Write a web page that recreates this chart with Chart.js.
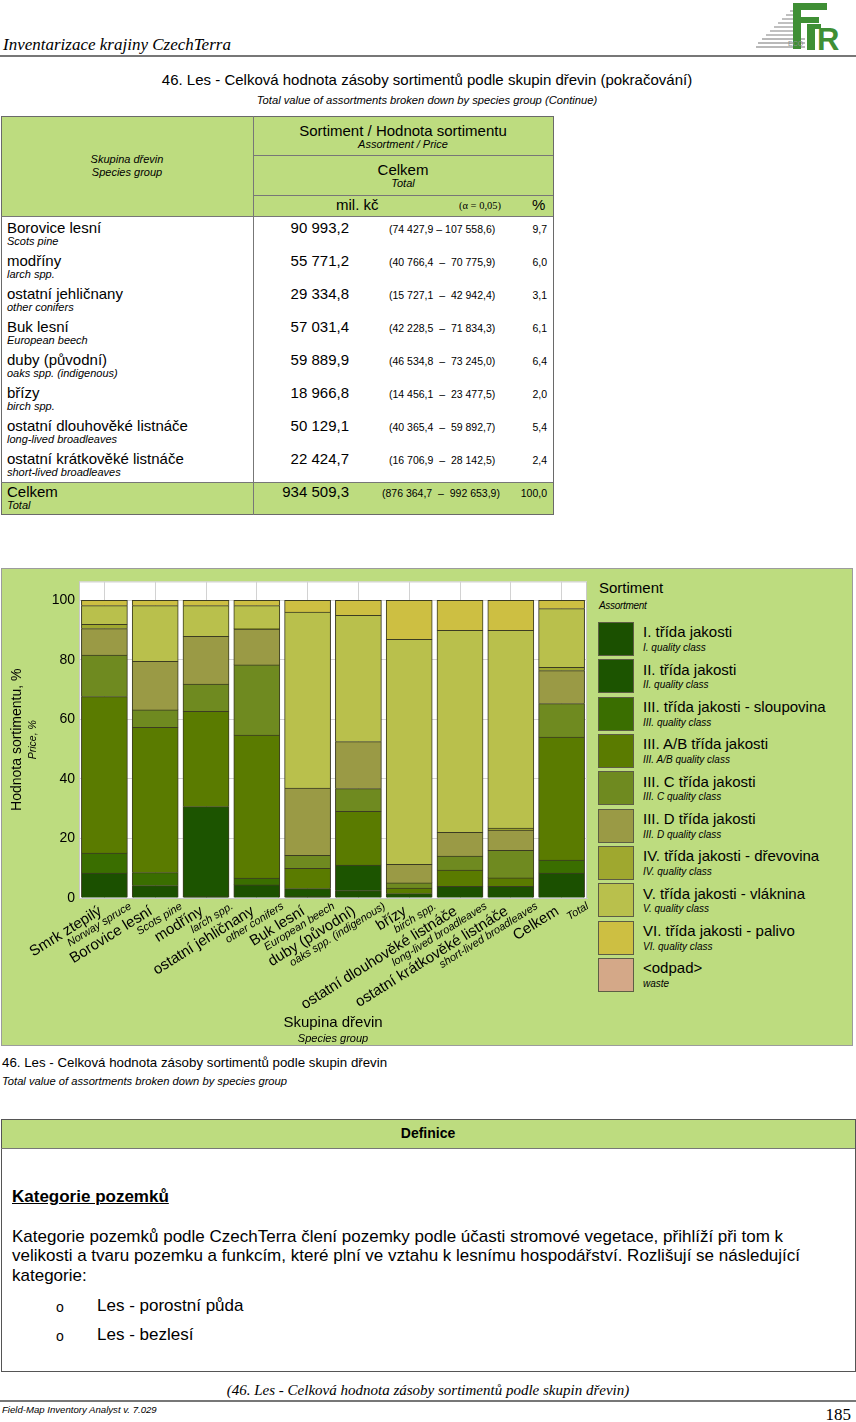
<!DOCTYPE html>
<html lang="cs">
<head>
<meta charset="utf-8">
<title>46. Les - Celková hodnota zásoby sortimentů podle skupin dřevin</title>
<script src="https://cdn.jsdelivr.net/npm/chart.js@4.4.1/dist/chart.umd.min.js"></script>
<style>
  html, body { margin: 0; padding: 0; }
  body { width: 856px; height: 1422px; position: relative; overflow: hidden; background: #fff; color: #000;
         font-family: "Liberation Sans", Arial, sans-serif; }
  .a { position: absolute; white-space: pre; line-height: 1; }
  .i { font-style: italic; }
  .serif { font-family: "Liberation Serif", "Times New Roman", serif; }
  .ln { position: absolute; background: #777; }
  .green { position: absolute; background: #bddc7f; }
  .box { position: absolute; box-sizing: border-box; }
</style>
</head>
<body>

<svg class="box" style="left:755px; top:2px;" width="98" height="50" viewBox="0 0 98 50">
  <g stroke="#b9b9b9" stroke-width="1.8">
    <line x1="35" y1="9" x2="42" y2="9"/>
    <line x1="31" y1="13" x2="42" y2="13"/>
    <line x1="27" y1="17" x2="42" y2="17"/>
    <line x1="23" y1="21" x2="42" y2="21"/>
    <line x1="19" y1="25" x2="42" y2="25"/>
    <line x1="15" y1="29" x2="42" y2="29"/>
    <line x1="11" y1="33" x2="42" y2="33"/>
    <line x1="7" y1="37" x2="50" y2="37"/>
    <line x1="3" y1="41" x2="50" y2="41"/>
    <line x1="1" y1="45" x2="50" y2="45"/>
  </g>
  <rect x="38" y="1" width="8" height="46" fill="#3f8f35"/>
  <rect x="46" y="1" width="26" height="7" fill="#3f8f35"/>
  <rect x="46" y="15" width="18" height="6" fill="#3f8f35"/>
  <rect x="52" y="22" width="8" height="26" fill="#3f8f35"/>
  <rect x="52" y="22" width="14" height="5" fill="#3f8f35"/>
  <text x="62" y="48" font-family="Liberation Sans" font-weight="bold" font-size="31" fill="#3f8f35">R</text>
  <text x="33" y="44" font-family="Liberation Sans" font-size="7" fill="#8f8f8f">ECO</text>
</svg>

<div class="box" style="left:1px; top:568px; width:852px; height:478px; background:#bddc7f; border:1px solid #9c9c9c;"></div>
<canvas id="chart" class="box" style="left:1px; top:569px;" width="592" height="476"></canvas>
<div id="page"></div>

<script>
// --- chart data (shares of assortment value in %) ---
const species = ["Smrk ztepilý", "Borovice lesní", "modříny", "ostatní jehličnany", "Buk lesní",
  "duby (původní)", "břízy", "ostatní dlouhověké listnáče", "ostatní krátkověké listnáče", "Celkem"];
const speciesEn = ["Norway spruce", "Scots pine", "larch spp.", "other conifers", "European beech",
  "oaks spp. (indigenous)", "birch spp.", "long-lived broadleaves", "short-lived broadleaves", "Total"];

const assortments = ["I. třída jakosti", "II. třída jakosti", "III. třída jakosti - sloupovina",
  "III. A/B třída jakosti", "III. C třída jakosti", "III. D třída jakosti",
  "IV. třída jakosti - dřevovina", "V. třída jakosti - vláknina", "VI. třída jakosti - palivo", "<odpad>"];
const assortmentsEn = ["I. quality class", "II. quality class", "III. quality class", "III. A/B quality class",
  "III. C quality class", "III. D quality class", "IV. quality class", "V. quality class",
  "VI. quality class", "waste"];
const colors = ["#1b5000", "#1c5400", "#3a6e00", "#5a7b00", "#6f8a20", "#9a9a45",
  "#9fa82f", "#b9c04c", "#cdbf42", "#d4a888"];

const trida1   = [8.3, 4.1, 0.5, 4.4, 0.5, 2.4, 1.4, 3.9, 3.9, 8.3];
const trida2   = [null, null, 30.2, null, 2.6, 8.6, null, null, null, null];
const trida3s  = [6.7, 4.4, null, 2.2, null, null, null, null, null, 4.4];
const trida3ab = [52.6, 48.8, 32.0, 48.1, 6.8, 18.1, 1.9, 5.4, 2.8, 41.3];
const trida3c  = [14.0, 5.9, 9.1, 23.6, 4.4, 7.6, 1.7, 4.7, 9.3, 11.3];
const trida3d  = [8.9, 16.3, 16.1, 12.0, 22.6, 15.8, 6.3, 8.0, 6.8, 11.1];
const trida4   = [1.4, null, null, 0.3, null, null, null, null, 0.6, 1.1];
const trida5   = [6.3, 18.7, 10.3, 7.6, 59.1, 42.4, 75.6, 67.9, 66.5, 19.7];
const trida6   = [1.8, 1.8, 1.8, 1.8, 4.0, 5.1, 13.1, 10.1, 10.1, 2.8];
const odpad    = [null, null, null, null, null, null, null, null, null, null];

const yTicks = [0, 20, 40, 60, 80, 100];
const xTitle = "Skupina dřevin", xTitleEn = "Species group";
const yTitle = "Hodnota sortimentu, %", yTitleEn = "Price, %";

// --- table data (continuation table above the chart) ---
const tabValue = [90993.2, 55771.2, 29334.8, 57031.4, 59889.9, 18966.8, 50129.1, 22424.7];
const tabLow   = [74427.9, 40766.4, 15727.1, 42228.5, 46534.8, 14456.1, 40365.4, 16706.9];
const tabHigh  = [107558.6, 70775.9, 42942.4, 71834.3, 73245.0, 23477.5, 59892.7, 28142.5];
const tabPct   = [9.7, 6.0, 3.1, 6.1, 6.4, 2.0, 5.4, 2.4];
const tabTotal = [934509.3, 876364.7, 992653.9, 100.0];

const SANS = '"Liberation Sans", Arial, sans-serif';
const page = document.getElementById('page');

function put(text, x, yc, size, o = {}) {
  const d = document.createElement('div');
  d.className = 'a' + (o.italic ? ' i' : '') + (o.serif ? ' serif' : '');
  d.textContent = text;
  d.style.fontSize = size + 'px';
  d.style.top = (yc - size * 0.52) + 'px';
  if (o.bold) d.style.fontWeight = 'bold';
  if (o.css) Object.assign(d.style, o.css);
  const al = o.align || 'left';
  if (al === 'left') d.style.left = x + 'px';
  else {
    d.style.width = '700px';
    d.style.textAlign = al;
    d.style.left = (al === 'right' ? x - 700 : x - 350) + 'px';
  }
  page.appendChild(d);
  return d;
}
function rect(cls, x, y, w, h) {
  const d = document.createElement('div');
  d.className = cls;
  Object.assign(d.style, { left: x + 'px', top: y + 'px', width: w + 'px', height: h + 'px' });
  page.appendChild(d);
}
function fmt(v) {
  const [i, d] = v.toFixed(1).split('.');
  return i.replace(/\B(?=(\d{3})+(?!\d))/g, ' ') + ',' + d;
}

// header
put("Inventarizace krajiny CzechTerra", 3, 45, 17, { italic: true, serif: true });
rect('ln', 0, 55, 856, 2);
put("46. Les - Celková hodnota zásoby sortimentů podle skupin dřevin (pokračování)", 427, 80, 15, { align: 'center' });
put("Total value of assortments broken down by species group (Continue)", 427, 101, 11.2, { align: 'center', italic: true });

// table
rect('green', 1, 116, 552, 100);
rect('green', 1, 482, 552, 32);
const tb = document.createElement('div');
tb.className = 'box';
Object.assign(tb.style, { left: '1px', top: '116px', width: '553px', height: '399px', border: '1px solid #6a6a6a' });
page.appendChild(tb);
rect('ln', 253, 116, 1, 399);
rect('ln', 253, 155, 300, 1);
rect('ln', 253, 195, 300, 1);
rect('ln', 1, 216, 552, 1);
rect('ln', 1, 482, 552, 1);

put("Skupina dřevin", 127, 160, 11, { align: 'center', italic: true });
put("Species group", 127, 173, 11, { align: 'center', italic: true });
put("Sortiment / Hodnota sortimentu", 403, 131, 15, { align: 'center' });
put("Assortment / Price", 403, 145, 11, { align: 'center', italic: true });
put("Celkem", 403, 170, 15, { align: 'center' });
put("Total", 403, 184, 11, { align: 'center', italic: true });
put("mil. kč", 336, 205, 15);
put("(α = 0,05)", 459, 206, 10.5, { serif: true });
put("%", 532, 205, 15);

function tableRow(name, nameEn, val, lo, hi, pct, yc, ciLeft) {
  put(name, 7, yc, 15);
  put(nameEn, 7, yc + 14, 11, { italic: true });
  put(fmt(val), 349, yc, 15, { align: 'right' });
  const up = fmt(hi);
  const sep = up.length > 8 && lo < 100000 ? " – " : "  –  ";
  put("(" + fmt(lo) + sep + up + ")", ciLeft, yc + 1, 10.5);
  put(fmt(pct), 547, yc + 1, 10.5, { align: 'right' });
}
tabValue.forEach((v, i) => tableRow(species[i + 1], speciesEn[i + 1], v, tabLow[i], tabHigh[i], tabPct[i], 228 + 33 * i, 389));
tableRow("Celkem", "Total", tabTotal[0], tabTotal[1], tabTotal[2], tabTotal[3], 492, 382);

// captions below chart
put("46. Les - Celková hodnota zásoby sortimentů podle skupin dřevin", 2, 1063, 13.3);
put("Total value of assortments broken down by species group", 2, 1082, 11.2, { italic: true });

// definitions box
rect('green', 1, 1119, 854, 29);
const db = document.createElement('div');
db.className = 'box';
Object.assign(db.style, { left: '1px', top: '1119px', width: '855px', height: '253px', border: '1px solid #555' });
page.appendChild(db);
rect('ln', 1, 1148, 854, 1);
put("Definice", 428, 1133, 14, { align: 'center', bold: true });
put("Kategorie pozemků", 12, 1197, 17, { bold: true, css: { textDecoration: 'underline' } });
put("Kategorie pozemků podle CzechTerra člení pozemky podle účasti stromové vegetace, přihlíží při tom k", 12, 1237, 17);
put("velikosti a tvaru pozemku a funkcím, které plní ve vztahu k lesnímu hospodářství. Rozlišují se následující", 12, 1256, 17);
put("kategorie:", 12, 1276, 17);
put("o", 56, 1307, 14);
put("Les - porostní půda", 97, 1306, 17);
put("o", 56, 1336, 14);
put("Les - bezlesí", 97, 1335, 17);

// footer
put("(46. Les - Celková hodnota zásoby sortimentů podle skupin dřevin)", 428, 1391, 15, { align: 'center', italic: true, serif: true });
rect('ln', 0, 1400, 856, 1.5);
put("Field-Map Inventory Analyst v. 7.029", 2, 1410, 9.6, { italic: true });
put("185", 851, 1415, 17, { align: 'right', serif: true });

// legend
put("Sortiment", 599, 588, 15);
put("Assortment", 599, 606, 10, { italic: true, css: { letterSpacing: '-0.3px' } });
assortments.forEach((name, k) => {
  const y = 622 + 37.35 * k;
  const sw = document.createElement('div');
  sw.className = 'box';
  Object.assign(sw.style, { left: '598px', top: y + 'px', width: '36px', height: '34px',
    background: colors[k], border: '1px solid #5d5d45' });
  page.appendChild(sw);
  put(name, 643, y + 10, 15);
  put(assortmentsEn[k], 643, y + 26, 10, { italic: true });
});

// chart
const shares = [trida1, trida2, trida3s, trida3ab, trida3c, trida3d, trida4, trida5, trida6, odpad];

const pagePlugin = {
  id: 'pagePlugin',
  beforeDraw(chart) {
    const { ctx, chartArea: a } = chart;
    ctx.save();
    ctx.fillStyle = '#fff';
    ctx.fillRect(a.left, a.top, a.width, a.height + 1);
    ctx.strokeStyle = '#c9c9c9';
    ctx.lineWidth = 1;
    ctx.strokeRect(a.left + 0.5, a.top + 0.5, a.width - 1, a.height);
    ctx.restore();
  },
  afterDraw(chart) {
    const { ctx, chartArea: a, scales: { x } } = chart;
    const ang = -32 * Math.PI / 180;
    ctx.save();
    ctx.fillStyle = '#000';
    species.forEach((name, i) => {
      const px = x.getPixelForValue(i);
      ctx.save();
      ctx.translate(px - 4, a.bottom + 12);
      ctx.rotate(ang);
      ctx.textAlign = 'right';
      ctx.textBaseline = 'middle';
      ctx.font = '15px ' + SANS;
      ctx.fillText(name, 0, 0);
      ctx.font = 'italic 11px ' + SANS;
      ctx.fillText(speciesEn[i], 28, 12);
      ctx.restore();
    });
    ctx.textAlign = 'center';
    ctx.textBaseline = 'middle';
    const cx = (a.left + a.right) / 2;
    ctx.font = '15px ' + SANS;
    ctx.fillText(xTitle, cx, a.bottom + 125);
    ctx.font = 'italic 11px ' + SANS;
    ctx.fillText(xTitleEn, cx, a.bottom + 141);
    const cy = (a.top + a.bottom) / 2;
    ctx.translate(16, cy);
    ctx.rotate(-Math.PI / 2);
    ctx.font = '14px ' + SANS;
    ctx.fillText(yTitle, 0, 0);
    ctx.font = 'italic 10.5px ' + SANS;
    ctx.fillText(yTitleEn, 0, 16);
    ctx.restore();
  }
};

new Chart(document.getElementById('chart'), {
  type: 'bar',
  data: {
    labels: species,
    datasets: assortments.map((name, k) => ({
      label: name,
      data: shares[k],
      backgroundColor: colors[k],
      borderColor: '#3c3c22',
      borderWidth: { top: 1, left: 1, right: 1, bottom: 0 },
      borderSkipped: false,
      inflateAmount: 0.5,
      categoryPercentage: 0.9,
      barPercentage: 1.0
    }))
  },
  options: {
    responsive: false,
    animation: false,
    layout: { padding: { top: 10, right: 6, left: 0, bottom: 0 } },
    plugins: { legend: { display: false }, tooltip: { enabled: false } },
    scales: {
      x: {
        stacked: true,
        grid: { offset: false, color: '#d2d2d2', drawTicks: false },
        border: { color: '#c9c9c9' },
        ticks: { display: false },
        afterFit(s) { s.height = 147; }
      },
      y: {
        stacked: true,
        min: 0,
        max: 106.4,
        afterBuildTicks(s) { s.ticks = yTicks.map(v => ({ value: v })); },
        grid: { color: '#d2d2d2', drawTicks: false },
        border: { color: '#c9c9c9' },
        ticks: { color: '#000', padding: 4, font: { size: 14, family: SANS } },
        afterFit(s) { s.width = 78; }
      }
    }
  },
  plugins: [pagePlugin]
});
</script>
</body>
</html>
